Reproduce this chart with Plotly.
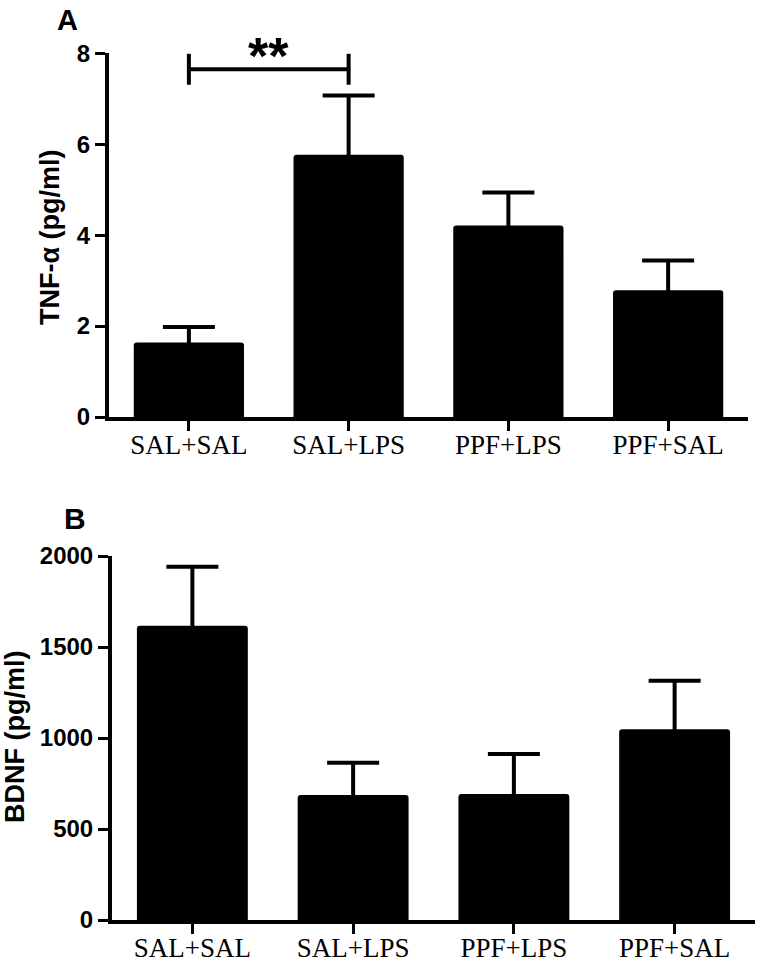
import plotly.graph_objects as go

# ---------------- data ----------------
groups = ["SAL+SAL", "SAL+LPS", "PPF+LPS", "PPF+SAL"]

tnf_mean = [1.64, 5.77, 4.21, 2.79]
tnf_sem = [0.34, 1.30, 0.73, 0.65]

bdnf_mean = [1617, 687, 692, 1048]
bdnf_sem = [324, 177, 220, 267]

tnf_ticks = [0, 2, 4, 6, 8]
bdnf_ticks = [0, 500, 1000, 1500, 2000]

sig_pair = ("SAL+SAL", "SAL+LPS")
sig_y = 7.65
sig_half = 0.34
sig_label = "**"

W, H = 758, 959
BLACK = "#000000"
SANS = "Liberation Sans, Arial, sans-serif"
SERIF = "Liberation Serif, Times New Roman, serif"

fig = go.Figure()

# symmetric bars: the lower half is hidden inside the black bar
err_style = dict(type="data", symmetric=True, color=BLACK, thickness=4, width=26)

fig.add_trace(go.Bar(
    x=groups, y=tnf_mean, xaxis="x", yaxis="y",
    marker=dict(color=BLACK, line=dict(width=0), cornerradius=3),
    error_y=dict(array=tnf_sem, **err_style),
    showlegend=False,
))
fig.add_trace(go.Bar(
    x=groups, y=bdnf_mean, xaxis="x2", yaxis="y2",
    marker=dict(color=BLACK, line=dict(width=0), cornerradius=3),
    error_y=dict(array=bdnf_sem, **err_style),
    showlegend=False,
))

# significance bracket
a, b = sig_pair
fig.add_trace(go.Scatter(
    x=[a, a, None, a, b, None, b, b],
    y=[sig_y - sig_half, sig_y + sig_half, None, sig_y, sig_y, None,
       sig_y - sig_half, sig_y + sig_half],
    mode="lines", line=dict(color=BLACK, width=4),
    xaxis="x", yaxis="y", cliponaxis=False, showlegend=False, hoverinfo="skip",
))

def px(v):
    return v / W

def py(v):
    return 1 - v / H

xcommon = dict(
    type="category", categoryorder="array", categoryarray=groups,
    range=[-0.5, 3.5], showline=True, linecolor=BLACK, linewidth=4,
    ticks="outside", ticklen=10, tickwidth=3, tickcolor=BLACK,
    ticklabelstandoff=-9,
    tickfont=dict(family=SERIF, size=27, color=BLACK),
    showgrid=False, zeroline=False, fixedrange=True, automargin=False,
)
ycommon = dict(
    showline=True, linecolor=BLACK, linewidth=4,
    ticks="outside", ticklen=10, tickwidth=3, tickcolor=BLACK,
    tickfont=dict(family=SANS, size=24, color=BLACK, weight="bold"),
    showgrid=False, zeroline=False, fixedrange=True, automargin=False,
)

fig.update_layout(
    template="none",
    width=W, height=H,
    margin=dict(l=0, r=0, t=0, b=0, pad=0, autoexpand=False),
    paper_bgcolor="white", plot_bgcolor="white",
    bargap=0.31,
    xaxis=dict(domain=[px(109), px(748)], anchor="y", **xcommon),
    yaxis=dict(domain=[py(417), py(53.3)], anchor="x", range=[0, 8],
               tickvals=tnf_ticks, **ycommon),
    xaxis2=dict(domain=[px(112), px(755)], anchor="y2", **xcommon),
    yaxis2=dict(domain=[py(920), py(556)], anchor="x2", range=[0, 2000],
                tickvals=bdnf_ticks, **ycommon),
    annotations=[
        dict(text=sig_label, x=0.5, y=7.93, xref="x", yref="y",
             xanchor="center", yanchor="middle", showarrow=False,
             font=dict(family=SANS, size=52, color=BLACK, weight="bold")),
        dict(text="TNF-α (pg/ml)", x=px(50), y=py(237), xref="paper", yref="paper",
             xanchor="center", yanchor="middle", textangle=-90, showarrow=False,
             font=dict(family=SANS, size=27, color=BLACK, weight="bold")),
        dict(text="BDNF (pg/ml)", x=px(15), y=py(737), xref="paper", yref="paper",
             xanchor="center", yanchor="middle", textangle=-90, showarrow=False,
             font=dict(family=SANS, size=27, color=BLACK, weight="bold")),
        dict(text="A", x=px(55), y=py(2), xref="paper", yref="paper",
             xanchor="left", yanchor="top", showarrow=False,
             font=dict(family=SANS, size=29, color=BLACK, weight="bold")),
        dict(text="B", x=px(62), y=py(500), xref="paper", yref="paper",
             xanchor="left", yanchor="top", showarrow=False,
             font=dict(family=SANS, size=30, color=BLACK, weight="bold")),
    ],
)

fig.write_html(
    "out.html",
    config={"displayModeBar": False},
    post_script="document.body.style.margin='0';document.body.style.padding='0';",
)
